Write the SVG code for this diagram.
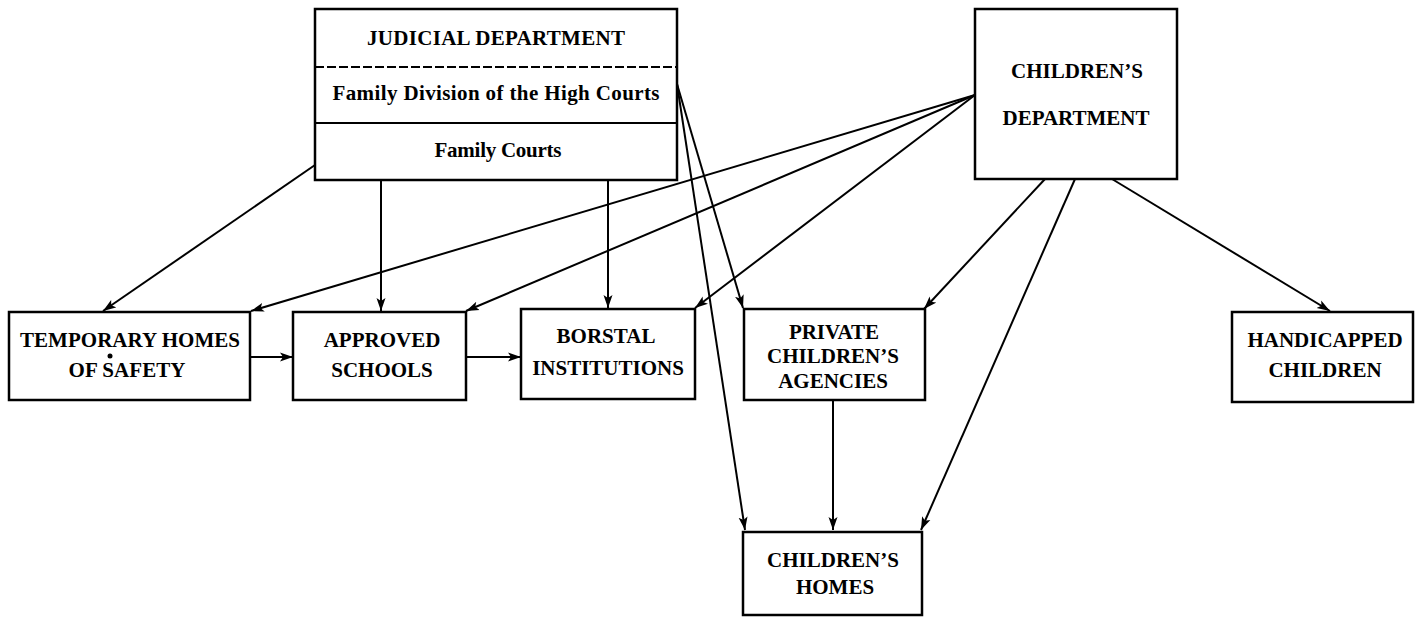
<svg xmlns="http://www.w3.org/2000/svg" width="1416" height="621" viewBox="0 0 1416 621">
  <style>
    .box { fill: #fff; stroke: #000; stroke-width: 2.5; }
    .div { stroke: #000; stroke-width: 2; fill: none; }
    .t { font-family: "Liberation Serif", "Times New Roman", serif; font-weight: bold; font-size: 21px; fill: #000; text-anchor: middle; }
    .conn line { stroke: #000; stroke-width: 2; fill: none; marker-end: url(#arrow); }
  </style>
  <defs>
    <marker id="arrow" markerUnits="userSpaceOnUse" markerWidth="14" markerHeight="10" refX="13" refY="5" orient="auto">
      <path d="M0,0.5 L13,5 L0,9.5 L3,5 Z" fill="#000"/>
    </marker>
  </defs>
  <rect width="1416" height="621" fill="#fff"/>

  <!-- connectors -->
  <g id="connectors" class="conn">
    <line x1="315" y1="165" x2="103" y2="311"/>
    <line x1="381" y1="181" x2="381" y2="311"/>
    <line x1="608" y1="181" x2="608" y2="308"/>
    <line x1="677" y1="84" x2="745" y2="530"/>
    <line x1="677" y1="84" x2="743" y2="308"/>
    <line x1="975" y1="95" x2="251" y2="311"/>
    <line x1="975" y1="95" x2="466" y2="311"/>
    <line x1="975" y1="95" x2="695" y2="308"/>
    <line x1="1045" y1="179" x2="924" y2="309"/>
    <line x1="1075" y1="179" x2="921" y2="530"/>
    <line x1="1112" y1="179" x2="1330" y2="311"/>
    <line x1="833" y1="400" x2="833" y2="530"/>
    <line x1="250" y1="357" x2="293" y2="357"/>
    <line x1="466" y1="357" x2="521" y2="357"/>
  </g>

  <!-- judicial department, split into three bands -->
  <g id="judicial">
    <rect class="box" x="315" y="9" width="362" height="171"/>
    <line class="div" x1="315" y1="67" x2="677" y2="67" stroke-dasharray="9,3"/>
    <line class="div" x1="315" y1="123" x2="677" y2="123"/>
    <text class="t" x="496" y="45" textLength="258" lengthAdjust="spacing">JUDICIAL DEPARTMENT</text>
    <text class="t" x="496" y="100" font-size="20" textLength="327" lengthAdjust="spacing">Family Division of the High Courts</text>
    <text class="t" x="498" y="157" textLength="127" lengthAdjust="spacing">Family Courts</text>
  </g>

  <g id="childrens-department">
    <rect class="box" x="975" y="9" width="202" height="170"/>
    <text class="t" x="1077" y="78">CHILDREN’S</text>
    <text class="t" x="1076" y="125">DEPARTMENT</text>
  </g>

  <g id="temporary-homes">
    <rect class="box" x="9" y="312" width="241" height="88"/>
    <text class="t" x="130" y="347" textLength="220" lengthAdjust="spacing">TEMPORARY HOMES</text>
    <text class="t" x="127" y="377" textLength="117" lengthAdjust="spacing">OF SAFETY</text>
    <circle cx="110" cy="356" r="2.5" fill="#000"/>
  </g>

  <g id="approved-schools">
    <rect class="box" x="293" y="312" width="173" height="88"/>
    <text class="t" x="382" y="347">APPROVED</text>
    <text class="t" x="382" y="377">SCHOOLS</text>
  </g>

  <g id="borstal">
    <rect class="box" x="521" y="309" width="174" height="90"/>
    <text class="t" x="606" y="343">BORSTAL</text>
    <text class="t" x="608" y="375">INSTITUTIONS</text>
  </g>

  <g id="private-agencies">
    <rect class="box" x="744" y="309" width="181" height="91"/>
    <text class="t" x="834" y="339">PRIVATE</text>
    <text class="t" x="833" y="363">CHILDREN’S</text>
    <text class="t" x="833" y="388">AGENCIES</text>
  </g>

  <g id="handicapped">
    <rect class="box" x="1232" y="312" width="181" height="90"/>
    <text class="t" x="1325" y="347">HANDICAPPED</text>
    <text class="t" x="1325" y="377">CHILDREN</text>
  </g>

  <g id="childrens-homes">
    <rect class="box" x="743" y="532" width="179" height="83"/>
    <text class="t" x="833" y="567">CHILDREN’S</text>
    <text class="t" x="835" y="594">HOMES</text>
  </g>
</svg>
